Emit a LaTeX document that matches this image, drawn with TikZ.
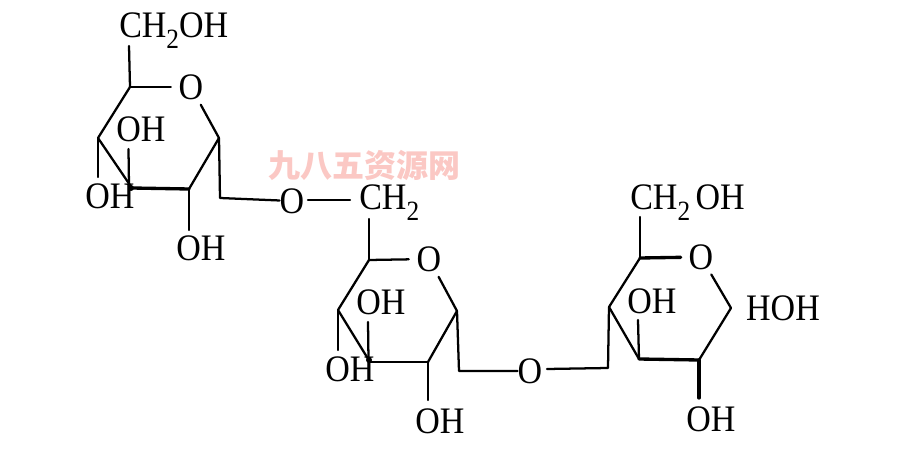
\documentclass[tikz,border=0pt]{standalone}
\usepackage{fontspec}
\usepackage{graphicx}
\setmainfont{Liberation Serif}
\newfontfamily\cjkwm{Noto Sans CJK SC}
\newcommand{\subtwo}{\raisebox{-0.27em}{\fontsize{19}{19}\selectfont 2}}
\newcommand{\tall}[1]{\scalebox{1}[1.1]{#1}}
\tikzset{
  bond/.style={line width=1.7pt,line join=round,line cap=round},
  heavy/.style={line width=2.5pt,line join=round,line cap=round},
  atom/.style={inner sep=0pt,font=\fontsize{25.5}{28}\selectfont},
  ringO/.style={circle,inner sep=0pt,minimum size=30pt,font=\fontsize{25.5}{28}\selectfont},
  linkO/.style={rectangle,inner sep=0pt,font=\fontsize{25.5}{28}\selectfont},
  mark dot/.style={fill=black,draw=none,circle,inner sep=0pt,minimum size=4.5pt},
  wm/.style={inner sep=0pt,text=wmpink,font=\fontsize{24}{26}\selectfont\cjkwm\bfseries}
}
\definecolor{wmpink}{RGB}{251,200,196}
\begin{document}
\begin{tikzpicture}[x=0.75pt,y=-0.75pt]
\useasboundingbox (0,0) rectangle (922,456);
\fill[white] (0,0) rectangle (922,456);
\node[wm] (mark) at (364,165) {九八五资源网};

% ring 1
\coordinate (a5) at (130,87); \coordinate (a1) at (219,138); \coordinate (a2) at (189,189);
\coordinate (a3) at (132,188); \coordinate (a4) at (98,138);
\coordinate (atop) at (129,46); \coordinate (ain) at (128.5,149); \coordinate (ainb) at (129,186);
\coordinate (aleft) at (98,177);
\coordinate (abot) at (189,230); \coordinate (abend) at (220,198);
\node[ringO] (ao) at (191,87) {\tall{O}};
\node[atom,anchor=base west] (ach) at (119,38) {\tall{CH\subtwo OH}};
\node[atom] (aoh1) at (141,129) {\tall{OH}};
\node[atom] (aoh2) at (110,196) {\tall{OH}};
\node[atom] (aoh3) at (201,248) {\tall{OH}};
\node[linkO] (lo1) at (292,201) {\tall{O}};
\node[atom,anchor=base west] (lc) at (359,210) {\tall{CH\subtwo}};
\coordinate (lc1) at (308,200); \coordinate (lc2) at (350,200);
\draw[bond] (atop) -- (a5);
\draw[bond] (a5) -- (ao);
\draw[bond] (ao) -- (a1);
\draw[bond] (a1) -- (a2);
\draw[heavy] (a2) -- (a3);
\draw[bond] (a3) -- (a4);
\draw[bond] (a4) -- (a5);
\draw[bond] (ain) -- (ainb);
\draw[bond] (a4) -- (aleft);
\draw[bond] (a2) -- (abot);
\draw[bond] (a1) -- (abend) -- (lo1);
\draw[bond] (lc1) -- (lc2);
\node[mark dot] (ad) at (131,188) {};

% ring 2
\coordinate (b5) at (369,260); \coordinate (b1) at (457,311); \coordinate (b2) at (428,362);
\coordinate (b3) at (370,362); \coordinate (b4) at (338,310);
\coordinate (btop) at (369,219); \coordinate (bin) at (368,322); \coordinate (binb) at (368.5,360);
\coordinate (bleft) at (338,350);
\coordinate (bbot) at (428,400); \coordinate (bbend) at (459,371);
\node[ringO] (bo) at (429,259) {\tall{O}};
\node[atom] (boh1) at (381,302) {\tall{OH}};
\node[atom] (boh2) at (350,369) {\tall{OH}};
\node[atom] (boh3) at (440,421) {\tall{OH}};
\node[linkO] (lo2) at (530,371) {\tall{O}};
\coordinate (lr1) at (547,369); \coordinate (cbend) at (608,368);
\draw[bond] (btop) -- (b5);
\draw[bond] (b5) -- (bo);
\draw[bond] (bo) -- (b1);
\draw[bond] (b1) -- (b2);
\draw[bond] (b2) -- (b3);
\draw[bond] (b3) -- (b4);
\draw[bond] (b4) -- (b5);
\draw[bond] (bin) -- (binb);
\draw[bond] (b4) -- (bleft);
\draw[bond] (b2) -- (bbot);
\draw[bond] (b1) -- (bbend) -- (lo2);
\node[mark dot] (bd) at (369,360) {};

% ring 3
\coordinate (c5) at (640,258); \coordinate (c1) at (731,308); \coordinate (c2) at (699,360);
\coordinate (c3) at (639,359); \coordinate (c4) at (609,307);
\coordinate (ctop) at (640,217); \coordinate (cin) at (638,320); \coordinate (cbot) at (699,398);
\node[ringO] (co) at (701,257) {\tall{O}};
\node[atom,anchor=base west] (cch) at (630,210) {\tall{CH\subtwo\kern4pt OH}};
\node[atom] (coh1) at (652,301) {\tall{OH}};
\node[atom] (coh2) at (783,308) {\tall{HOH}};
\node[atom] (coh3) at (711,419) {\tall{OH}};
\draw[bond] (ctop) -- (c5);
\draw[heavy] (c5) -- (co);
\draw[bond] (co) -- (c1);
\draw[bond] (c1) -- (c2);
\draw[heavy] (c2) -- (c3);
\draw[bond] (c3) -- (c4);
\draw[bond] (c4) -- (c5);
\draw[bond] (cin) -- (c3);
\draw[bond] (lr1) -- (cbend) -- (c4);
\draw[heavy] (c2) -- (cbot);
\end{tikzpicture}
\end{document}
